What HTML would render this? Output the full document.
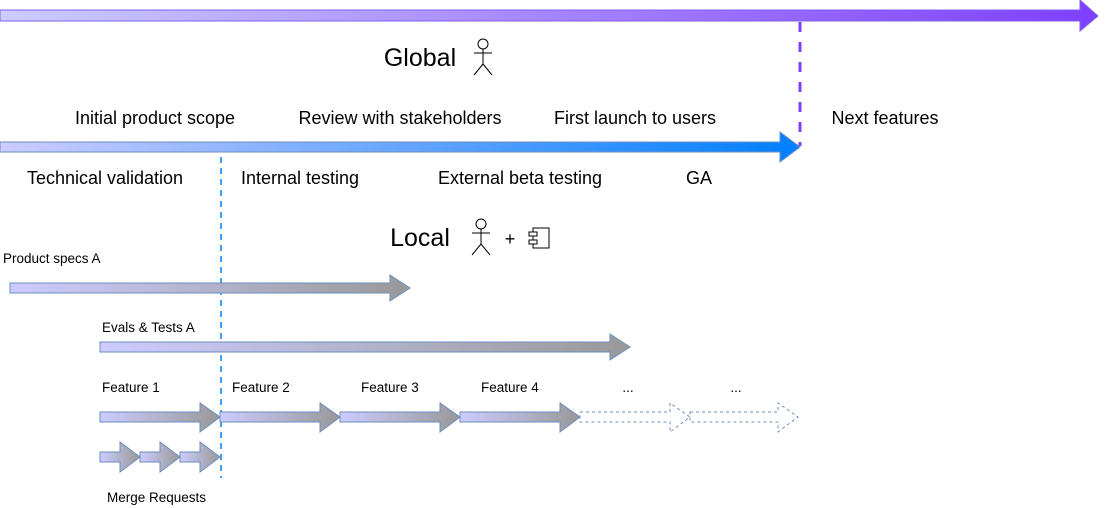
<!DOCTYPE html>
<html><head><meta charset="utf-8"><style>body{margin:0;background:#fff}svg{display:block;font-family:"Liberation Sans",Arial,sans-serif}</style></head><body>
<svg width="1113" height="508" viewBox="0 0 1113 508">
<defs>
<linearGradient id="gp" x1="0" x2="1"><stop offset="0" stop-color="#ccccff"/><stop offset="1" stop-color="#7f3fff"/></linearGradient>
<linearGradient id="gb" x1="0" x2="1"><stop offset="0" stop-color="#ccccff"/><stop offset="1" stop-color="#007fff"/></linearGradient>
<linearGradient id="gg" x1="0" x2="1"><stop offset="0" stop-color="#ccccff"/><stop offset="1" stop-color="#999999"/></linearGradient>
<g id="actor" fill="none" stroke="#000" stroke-width="1"><circle cx="0" cy="-13" r="5"/><line x1="0" y1="-8" x2="0" y2="7"/><line x1="-9" y1="-4" x2="9" y2="-4"/><line x1="0" y1="7" x2="-9" y2="18"/><line x1="0" y1="7" x2="9" y2="18"/></g>
</defs>
<polygon points="0,10 1080,10 1080,0 1098,16 1080,31 1080,21 0,21" fill="url(#gp)" stroke="#7f5fef" stroke-width="1"/>
<polygon points="0,142 780,142 780,132 800,147 780,162 780,152 0,152" fill="url(#gb)" stroke="#6c8ebf" stroke-width="1"/>
<line x1="800" y1="22" x2="800" y2="146" stroke="#7f3fff" stroke-width="3" stroke-dasharray="10,10"/>
<line x1="221" y1="157" x2="221" y2="478" stroke="#007fff" stroke-width="1.5" stroke-dasharray="6,5"/>
<g fill="url(#gg)" stroke="#6c8ebf" stroke-width="1">
<polygon points="10,283 390,283 390,275 410,288 390,301 390,293 10,293"/>
<polygon points="100,342 610,342 610,334 630,347 610,360 610,352 100,352"/>
<polygon points="100,412 200,412 200,403 220,417 200,432 200,422 100,422"/>
<polygon points="220,412 320,412 320,403 340,417 320,432 320,422 220,422"/>
<polygon points="340,412 440,412 440,403 460,417 440,432 440,422 340,422"/>
<polygon points="460,412 560,412 560,403 580,417 560,432 560,422 460,422"/>
<polygon points="100,452 120,452 120,442 140,457 120,472 120,462 100,462"/>
<polygon points="140,452 160,452 160,442 180,457 160,472 160,462 140,462"/>
<polygon points="180,452 200,452 200,442 220,457 200,472 200,462 180,462"/>
</g>
<g fill="none" stroke="#6c8ebf" stroke-width="1" stroke-dasharray="3,3">
<polygon points="580,412 670,412 670,403 690,417 670,432 670,422 580,422"/>
<polygon points="690,412 778,412 778,403 798,417 778,432 778,422 690,422"/>
</g>
<g font-size="18" fill="#000">
<text x="155" y="124" text-anchor="middle">Initial product scope</text>
<text x="400" y="124" text-anchor="middle">Review with stakeholders</text>
<text x="635" y="124" text-anchor="middle">First launch to users</text>
<text x="885" y="124" text-anchor="middle">Next features</text>
<text x="105" y="184" text-anchor="middle">Technical validation</text>
<text x="300" y="184" text-anchor="middle">Internal testing</text>
<text x="520" y="184" text-anchor="middle">External beta testing</text>
<text x="699" y="184" text-anchor="middle">GA</text>
</g>
<text x="420" y="66" font-size="25" text-anchor="middle">Global</text>
<use href="#actor" x="483" y="57"/>
<text x="420" y="246" font-size="25" text-anchor="middle">Local</text>
<use href="#actor" x="481" y="237"/>
<text x="510" y="245" font-size="18" text-anchor="middle">+</text>
<g fill="none" stroke="#000" stroke-width="1"><rect x="533" y="228" width="16" height="20"/><rect x="529" y="232" width="8" height="4" fill="#fff"/><rect x="529" y="240" width="8" height="4" fill="#fff"/></g>
<g font-size="13.5">
<text x="3" y="263">Product specs A</text>
<text x="102" y="332">Evals &amp; Tests A</text>
<text x="102" y="392">Feature 1</text>
<text x="232" y="392">Feature 2</text>
<text x="361" y="392">Feature 3</text>
<text x="481" y="392">Feature 4</text>
<text x="628" y="392" text-anchor="middle">...</text>
<text x="736" y="392" text-anchor="middle">...</text>
<text x="107" y="502">Merge Requests</text>
</g>
</svg>
</body></html>
